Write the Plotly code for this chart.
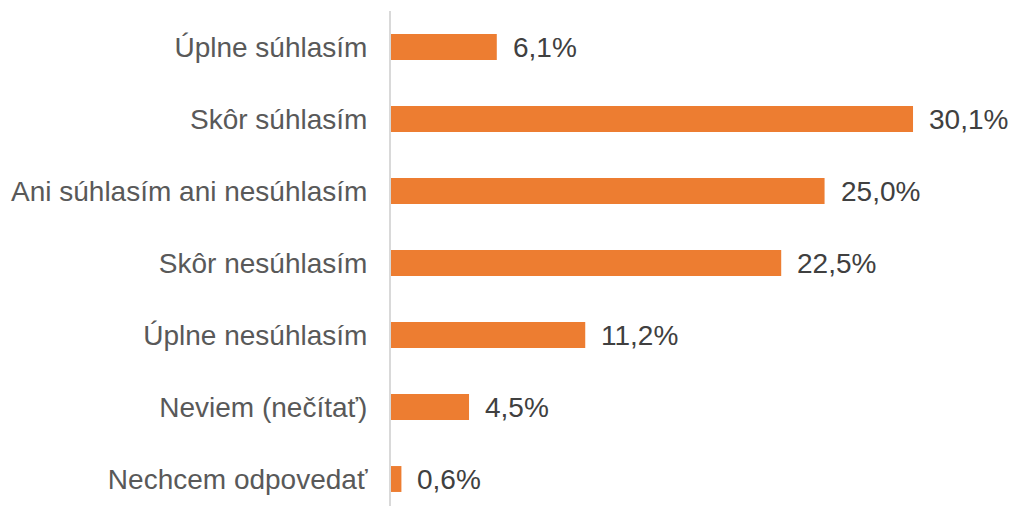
import plotly.graph_objects as go

categories = ["Úplne súhlasím", "Skôr súhlasím", "Ani súhlasím ani nesúhlasím",
              "Skôr nesúhlasím", "Úplne nesúhlasím", "Neviem (nečítať)", "Nechcem odpovedať"]
values = [6.1, 30.1, 25.0, 22.5, 11.2, 4.5, 0.6]
labels = [f"{v:.1f}".replace(".", ",") + "%" for v in values]

FONT = "Liberation Sans, Arial, sans-serif"
fig = go.Figure()
fig.add_trace(go.Bar(
    x=values, y=categories, orientation="h",
    marker=dict(color="#ED7D31", line=dict(width=0)),
    width=0.36, hoverinfo="skip",
))
for c, v, t in zip(categories, values, labels):
    fig.add_annotation(x=v, y=c, text=t, showarrow=False, xanchor="left",
                       xshift=14, font=dict(family=FONT, size=28, color="#404040"))

fig.update_layout(
    width=1011, height=506,
    margin=dict(l=391, r=13, t=11, b=0),
    paper_bgcolor="white", plot_bgcolor="white",
    showlegend=False,
    font=dict(family=FONT, size=28, color="#595959"),
)
fig.update_xaxes(range=[0, 35], visible=False, showgrid=False, zeroline=False)
fig.update_yaxes(
    type="category", categoryorder="array", categoryarray=categories,
    range=[6.375, -0.5], showline=True, linecolor="#D9D9D9", linewidth=2,
    ticks="outside", ticklen=16, tickcolor="rgba(0,0,0,0)", showgrid=False,
    tickfont=dict(family=FONT, size=28, color="#595959"),
)
fig.write_html("out.html", config={"displayModeBar": False},
               post_script="document.body.style.margin='0';document.body.style.overflow='hidden';")
